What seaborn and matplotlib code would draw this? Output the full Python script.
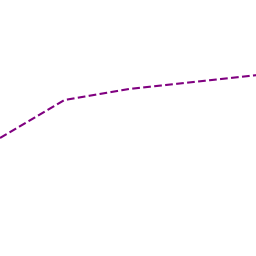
import matplotlib
matplotlib.use("Agg")
import matplotlib.pyplot as plt
import seaborn as sns
import pandas as pd

# values
steps = [0, 1, 2, 3, 4]
values = [118, 156, 167, 174, 181]

df = pd.DataFrame({"step": steps, "value": values})

fig = plt.figure(figsize=(2.56, 2.56), dpi=100)
ax = fig.add_axes([0, 0, 1, 1])
sns.lineplot(data=df, x="step", y="value", ax=ax, color="#800080",
             linestyle="--", linewidth=1.5)
ax.set_xlim(0, 3.97)
ax.set_ylim(0, 256)
ax.axis("off")
fig.savefig("out.png", dpi=100)
